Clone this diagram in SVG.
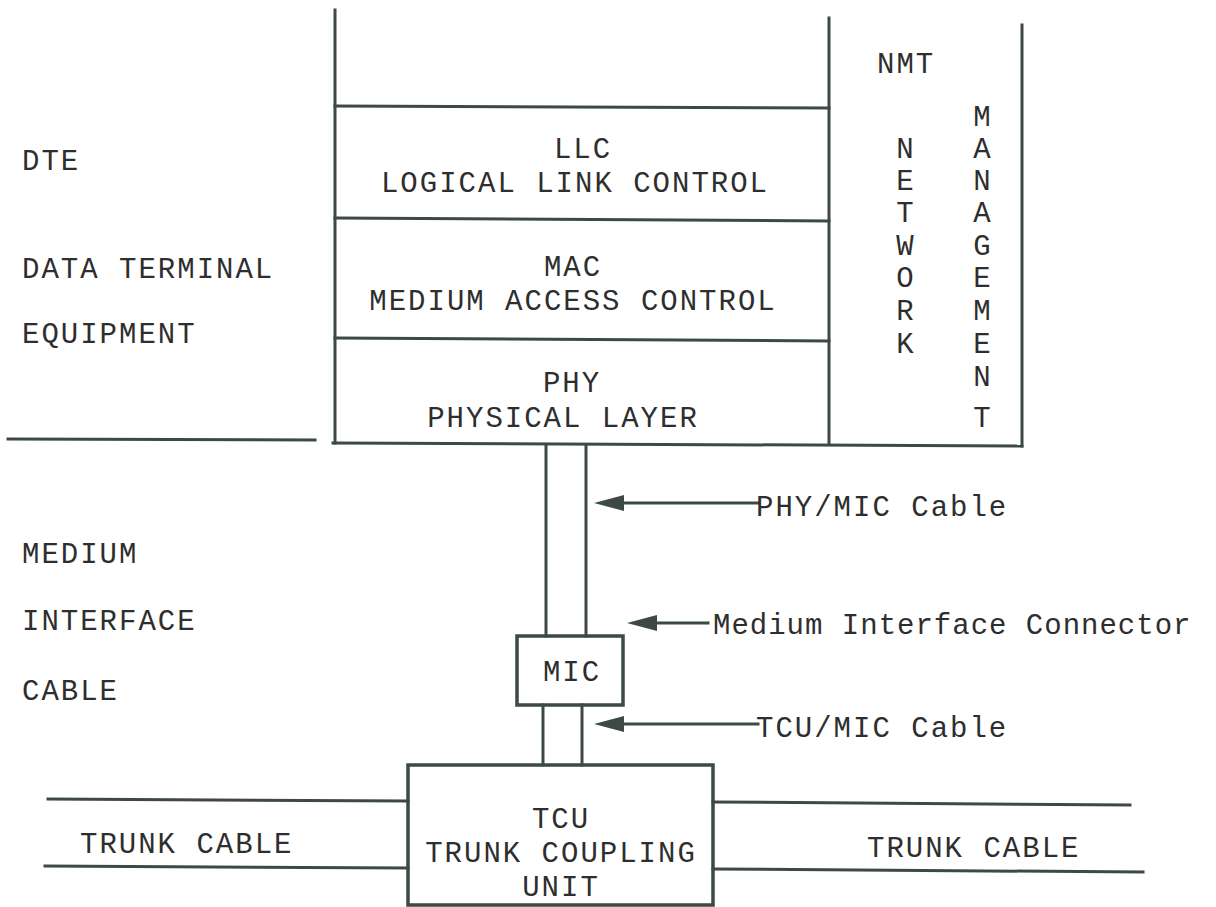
<svg xmlns="http://www.w3.org/2000/svg" width="1216" height="907" viewBox="0 0 1216 907">
<style>
.ln{stroke:#3d4a43;stroke-width:3;fill:none;stroke-linecap:square}
.bx{stroke:#3d4a43;stroke-width:3.5;fill:#fff}
.hd{fill:#3d4a43}
text{font-family:"Liberation Mono","DejaVu Sans Mono",monospace;font-size:29px;fill:#2e2e2e;letter-spacing:2px}
.c{text-anchor:middle}
.m{text-anchor:middle;letter-spacing:0}
</style>
<rect width="1216" height="907" fill="#fff"/>

<g id="stack">
<line class="ln" x1="335" y1="10" x2="335" y2="443"/>
<line class="ln" x1="829" y1="18" x2="829" y2="443"/>
<line class="ln" x1="1022" y1="25" x2="1022" y2="446"/>
<line class="ln" x1="335" y1="106" x2="829" y2="108"/>
<line class="ln" x1="335" y1="218" x2="829" y2="221"/>
<line class="ln" x1="335" y1="338" x2="829" y2="341"/>
<line class="ln" x1="333" y1="443" x2="1022" y2="446"/>
</g>
<g id="llc">
<text class="c" x="583" y="158">LLC</text>
<text class="c" x="575" y="192">LOGICAL LINK CONTROL</text>
</g>
<g id="mac">
<text class="c" x="573" y="276">MAC</text>
<text class="c" x="573" y="310">MEDIUM ACCESS CONTROL</text>
</g>
<g id="phy">
<text class="c" x="572" y="392">PHY</text>
<text class="c" x="563" y="427">PHYSICAL LAYER</text>
</g>
<g id="nmt">
<text x="877" y="73">NMT</text>
<text class="m" x="905" y="158">N</text>
<text class="m" x="905" y="190">E</text>
<text class="m" x="905" y="222">T</text>
<text class="m" x="905" y="255">W</text>
<text class="m" x="905" y="287">O</text>
<text class="m" x="905" y="320">R</text>
<text class="m" x="905" y="353">K</text>
<text class="m" x="982" y="126">M</text>
<text class="m" x="982" y="158">A</text>
<text class="m" x="982" y="190">N</text>
<text class="m" x="982" y="222">A</text>
<text class="m" x="982" y="255">G</text>
<text class="m" x="982" y="287">E</text>
<text class="m" x="982" y="320">M</text>
<text class="m" x="982" y="353">E</text>
<text class="m" x="982" y="386">N</text>
<text class="m" x="982" y="427">T</text>
</g>
<g id="dte">
<line class="ln" x1="8" y1="439" x2="315" y2="440"/>
<text x="22" y="170">DTE</text>
<text x="22" y="278">DATA TERMINAL</text>
<text x="22" y="343">EQUIPMENT</text>
</g>
<g id="mic-cable-label">
<text x="22" y="563">MEDIUM</text>
<text x="22" y="630">INTERFACE</text>
<text x="22" y="700">CABLE</text>
</g>
<g id="mic">
<rect class="bx" x="517" y="636" width="106" height="69"/>
<text class="c" x="572" y="681">MIC</text>
</g>
<g id="tcu">
<rect class="bx" x="408" y="765" width="305" height="140"/>
<text class="c" x="561" y="828">TCU</text>
<text class="c" x="561" y="862">TRUNK COUPLING</text>
<text class="c" x="561" y="896">UNIT</text>
</g>
<g id="trunk-left">
<text x="80" y="853">TRUNK CABLE</text>
</g>
<g id="trunk-right">
<text x="867" y="857">TRUNK CABLE</text>
</g>
<g id="connectors">
<line class="ln" x1="546" y1="445" x2="546" y2="636"/>
<line class="ln" x1="586" y1="445" x2="586" y2="636"/>
<line class="ln" x1="543" y1="705" x2="543" y2="765"/>
<line class="ln" x1="582" y1="705" x2="582" y2="765"/>
<line class="ln" x1="48" y1="799" x2="408" y2="801"/>
<line class="ln" x1="45" y1="866" x2="408" y2="868"/>
<line class="ln" x1="713" y1="802" x2="1130" y2="805"/>
<line class="ln" x1="713" y1="869" x2="1143" y2="872"/>
<line class="ln" x1="622" y1="503" x2="758" y2="503"/>
<path class="hd" d="M594,503 L624,495 L624,511 Z"/>
<line class="ln" x1="655" y1="623" x2="708" y2="623"/>
<path class="hd" d="M627,623 L657,615 L657,631 Z"/>
<line class="ln" x1="622" y1="724" x2="758" y2="724"/>
<path class="hd" d="M594,724 L624,716 L624,732 Z"/>
</g>
<g id="labels">
<text x="756" y="516">PHY/MIC Cable</text>
<text x="713" y="634" style="letter-spacing:1px">Medium Interface Connector</text>
<text x="756" y="737">TCU/MIC Cable</text>
</g>
</svg>
